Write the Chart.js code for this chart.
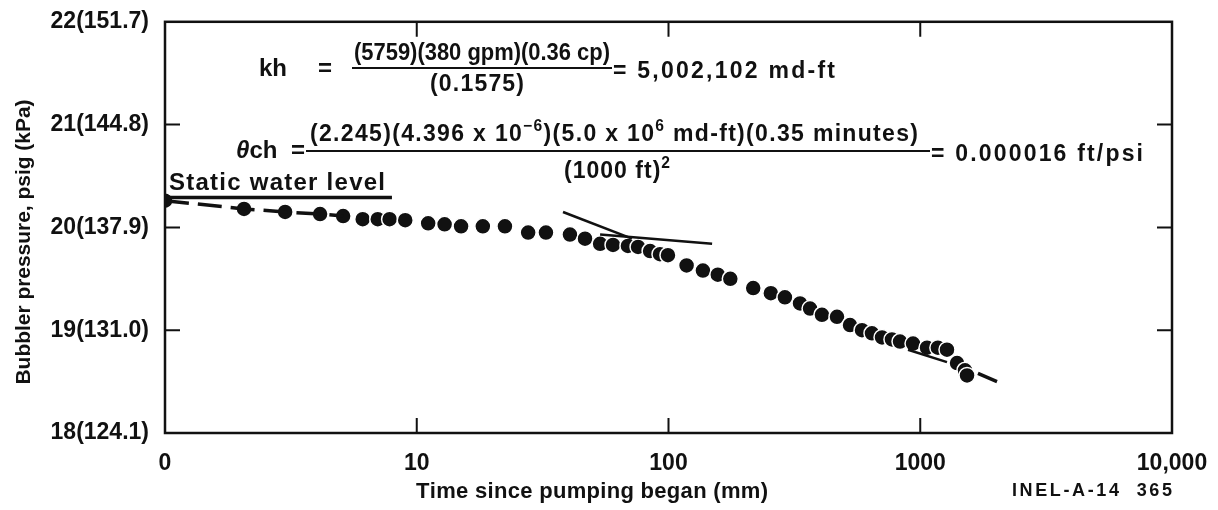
<!DOCTYPE html>
<html>
<head>
<meta charset="utf-8">
<script src="https://cdn.jsdelivr.net/npm/chart.js@4/dist/chart.umd.min.js"></script>
<style>
  body { margin: 0; background: #fff; }
  canvas { display: block; }
</style>
</head>
<body>
<canvas id="drawdown" width="1218" height="510"></canvas>
<script>
// measured points, time (min) vs bubbler pressure (psig)
const timeMin = [1, 2.06, 3.0, 4.13, 5.1, 6.1, 7.0, 7.8, 9.0, 11.1,
  12.9, 15.0, 18.3, 22.4, 27.7, 32.6, 40.6, 46.6, 53.5, 60.2,
  69.0, 75.7, 84.5, 92.5, 99.5, 118, 137, 157, 176, 217,
  255, 290, 333, 365, 407, 467, 526, 587, 643, 705,
  772, 831, 936, 1064, 1175, 1277, 1400, 1506, 1534];
const pressure = [20.26, 20.18, 20.15, 20.13, 20.11, 20.08, 20.08, 20.08, 20.07, 20.04,
  20.03, 20.01, 20.01, 20.01, 19.95, 19.95, 19.93, 19.89, 19.84, 19.83,
  19.82, 19.81, 19.77, 19.74, 19.73, 19.63, 19.58, 19.54, 19.50, 19.41,
  19.36, 19.32, 19.26, 19.21, 19.15, 19.13, 19.05, 19.00, 18.97, 18.93,
  18.91, 18.89, 18.87, 18.83, 18.83, 18.81, 18.68, 18.61, 18.56];

// dashed trend through early points and its tail past the last points
const earlyDashX = [1, 2.06, 3.0, 4.13, 5.1];
const earlyDashY = [20.26, 20.18, 20.15, 20.13, 20.11];
const tailDashX = [1695, 2018];
const tailDashY = [18.58, 18.50];

// static water level
const staticX = [1, 7.97];
const staticY = [20.29, 20.29];

// straight-line fits drawn on the plot
const fitSteepX = [38.1, 71.6];
const fitSteepY = [20.15, 19.89];
const fitFlatX = [53.5, 149];
const fitFlatY = [19.93, 19.84];
const fitLateX = [894, 1277];
const fitLateY = [18.81, 18.69];

const xTicks = [1, 10, 100, 1000, 10000];
const xTickLabels = ['0', '10', '100', '1000', '10,000'];
const yTicks = [18, 19, 20, 21, 22];
const yTickLabels = ['18(124.1)', '19(131.0)', '20(137.9)', '21(144.8)', '22(151.7)'];

const FONT = '"Liberation Sans", Arial, Helvetica, sans-serif';
const INK = '#111';

function pts(xs, ys) {
  return xs.map((x, i) => ({x: x, y: ys[i]}));
}

function lineSet(xs, ys, width, dash) {
  return {
    type: 'line',
    data: pts(xs, ys),
    borderColor: INK,
    borderWidth: width,
    borderDash: dash || [],
    pointRadius: 0,
    showLine: true,
    fill: false,
    order: 1
  };
}

function setFont(ctx, r, size) {
  const s = r.sup ? size * 0.68 : size;
  ctx.font = (r.italic ? 'italic ' : '') + 'bold ' + s + 'px ' + FONT;
}

// draws runs of text (some superscript) letter by letter, spread out to a width
function drawRuns(ctx, runs, x, y, align, size, width) {
  const chars = [];
  runs.forEach(r => {
    setFont(ctx, r, size);
    Array.from(r.t).forEach(c => chars.push({c: c, r: r, w: ctx.measureText(c).width}));
  });
  const natural = chars.reduce((a, ch) => a + ch.w, 0);
  let gap = 0, k = 1;
  if (width && width > natural) gap = (width - natural) / Math.max(chars.length - 1, 1);
  if (width && width < natural) k = width / natural;
  const total = (natural + gap * (chars.length - 1)) * k;
  const left = align === 'center' ? x - total / 2 : (align === 'right' ? x - total : x);
  ctx.save();
  ctx.translate(left, y);
  ctx.scale(k, 1);
  let cx = 0;
  chars.forEach(ch => {
    setFont(ctx, ch.r, size);
    ctx.fillText(ch.c, cx, ch.r.sup ? -size * 0.45 : 0);
    cx += ch.w + gap;
  });
  ctx.restore();
}

const frame = {
  id: 'frame',
  afterDraw(chart) {
    const ctx = chart.ctx;
    const a = chart.chartArea;
    const xs = chart.scales.x, ys = chart.scales.y;
    ctx.save();
    ctx.strokeStyle = INK;
    ctx.fillStyle = INK;
    ctx.lineWidth = 2.5;
    ctx.strokeRect(a.left, a.top, a.right - a.left, a.bottom - a.top);

    // inward tick marks on all four sides
    ctx.lineWidth = 2;
    ctx.beginPath();
    xTicks.slice(1, -1).forEach(v => {
      const px = xs.getPixelForValue(v);
      ctx.moveTo(px, a.bottom); ctx.lineTo(px, a.bottom - 15);
      ctx.moveTo(px, a.top); ctx.lineTo(px, a.top + 15);
    });
    yTicks.slice(1, -1).forEach(v => {
      const py = ys.getPixelForValue(v);
      ctx.moveTo(a.left, py); ctx.lineTo(a.left + 15, py);
      ctx.moveTo(a.right, py); ctx.lineTo(a.right - 15, py);
    });
    ctx.stroke();

    ctx.textBaseline = 'alphabetic';
    ctx.textAlign = 'left';

    // kh equation
    drawRuns(ctx, [{t: 'kh'}], 259, 76, 'left', 24);
    drawRuns(ctx, [{t: '='}], 318, 76, 'left', 24);
    drawRuns(ctx, [{t: '(5759)(380 gpm)(0.36 cp)'}], 482, 60, 'center', 23, 256);
    ctx.lineWidth = 2;
    ctx.beginPath(); ctx.moveTo(352, 68); ctx.lineTo(612, 68); ctx.stroke();
    drawRuns(ctx, [{t: '(0.1575)'}], 477, 91, 'center', 23, 94);
    drawRuns(ctx, [{t: '= 5,002,102 md-ft'}], 613, 78, 'left', 23, 222);

    // theta ch equation
    drawRuns(ctx, [{t: '\u03B8', italic: true}, {t: 'ch'}], 236, 158, 'left', 24);
    drawRuns(ctx, [{t: '='}], 291, 158, 'left', 24);
    drawRuns(ctx, [
      {t: '(2.245)(4.396 x 10'}, {t: '\u22126', sup: true},
      {t: ')(5.0 x 10'}, {t: '6', sup: true},
      {t: ' md-ft)(0.35 minutes)'}
    ], 614, 141, 'center', 23, 608);
    ctx.beginPath(); ctx.moveTo(306, 151); ctx.lineTo(930, 151); ctx.stroke();
    drawRuns(ctx, [{t: '(1000 ft)'}, {t: '2', sup: true}], 617, 178, 'center', 23, 106);
    drawRuns(ctx, [{t: '= 0.000016 ft/psi'}], 931, 161, 'left', 23, 212);

    // static water level label
    drawRuns(ctx, [{t: 'Static water level'}], 169, 190, 'left', 24, 216);

    // axis titles and figure id
    drawRuns(ctx, [{t: 'Time since pumping began (mm)'}], 592, 498, 'center', 22, 352);
    drawRuns(ctx, [{t: 'INEL-A-14  365'}], 1012, 496, 'left', 18, 160);
    ctx.translate(30, 242);
    ctx.rotate(-Math.PI / 2);
    drawRuns(ctx, [{t: 'Bubbler pressure, psig (kPa)'}], 0, 0, 'center', 21, 285);
    ctx.restore();
  }
};

new Chart(document.getElementById('drawdown').getContext('2d'), {
  type: 'scatter',
  data: {
    datasets: [
      {
        data: pts(timeMin, pressure),
        backgroundColor: INK,
        pointBorderColor: '#fff',
        pointBorderWidth: 1.5,
        pointRadius: 8,
        pointHoverRadius: 8,
        order: 2
      },
      lineSet(earlyDashX, earlyDashY, 3.5, [24, 9]),
      lineSet(tailDashX, tailDashY, 3.5),
      lineSet(staticX, staticY, 3.5),
      lineSet(fitSteepX, fitSteepY, 2.5),
      lineSet(fitFlatX, fitFlatY, 2.5),
      lineSet(fitLateX, fitLateY, 2.5)
    ]
  },
  options: {
    responsive: false,
    animation: false,
    layout: { padding: { top: 21, right: 46, left: 0, bottom: 0 } },
    plugins: { legend: { display: false }, tooltip: { enabled: false } },
    events: [],
    scales: {
      x: {
        type: 'logarithmic',
        min: 1,
        max: 10000,
        grid: { display: false },
        border: { display: false },
        afterBuildTicks: scale => { scale.ticks = xTicks.map(v => ({value: v})); },
        afterFit: scale => { scale.height = 77; },
        ticks: {
          padding: 9,
          color: INK,
          maxRotation: 0,
          autoSkip: false,
          font: { family: FONT, size: 23, weight: 'bold' },
          callback: v => xTickLabels[xTicks.indexOf(v)]
        }
      },
      y: {
        min: 18,
        max: 22,
        grid: { display: false },
        border: { display: false },
        afterBuildTicks: scale => { scale.ticks = yTicks.map(v => ({value: v})); },
        afterFit: scale => { scale.width = 165; },
        ticks: {
          padding: 8,
          color: INK,
          font: { family: FONT, size: 23, weight: 'bold' },
          callback: v => yTickLabels[yTicks.indexOf(v)]
        }
      }
    }
  },
  plugins: [frame]
});
</script>
</body>
</html>
